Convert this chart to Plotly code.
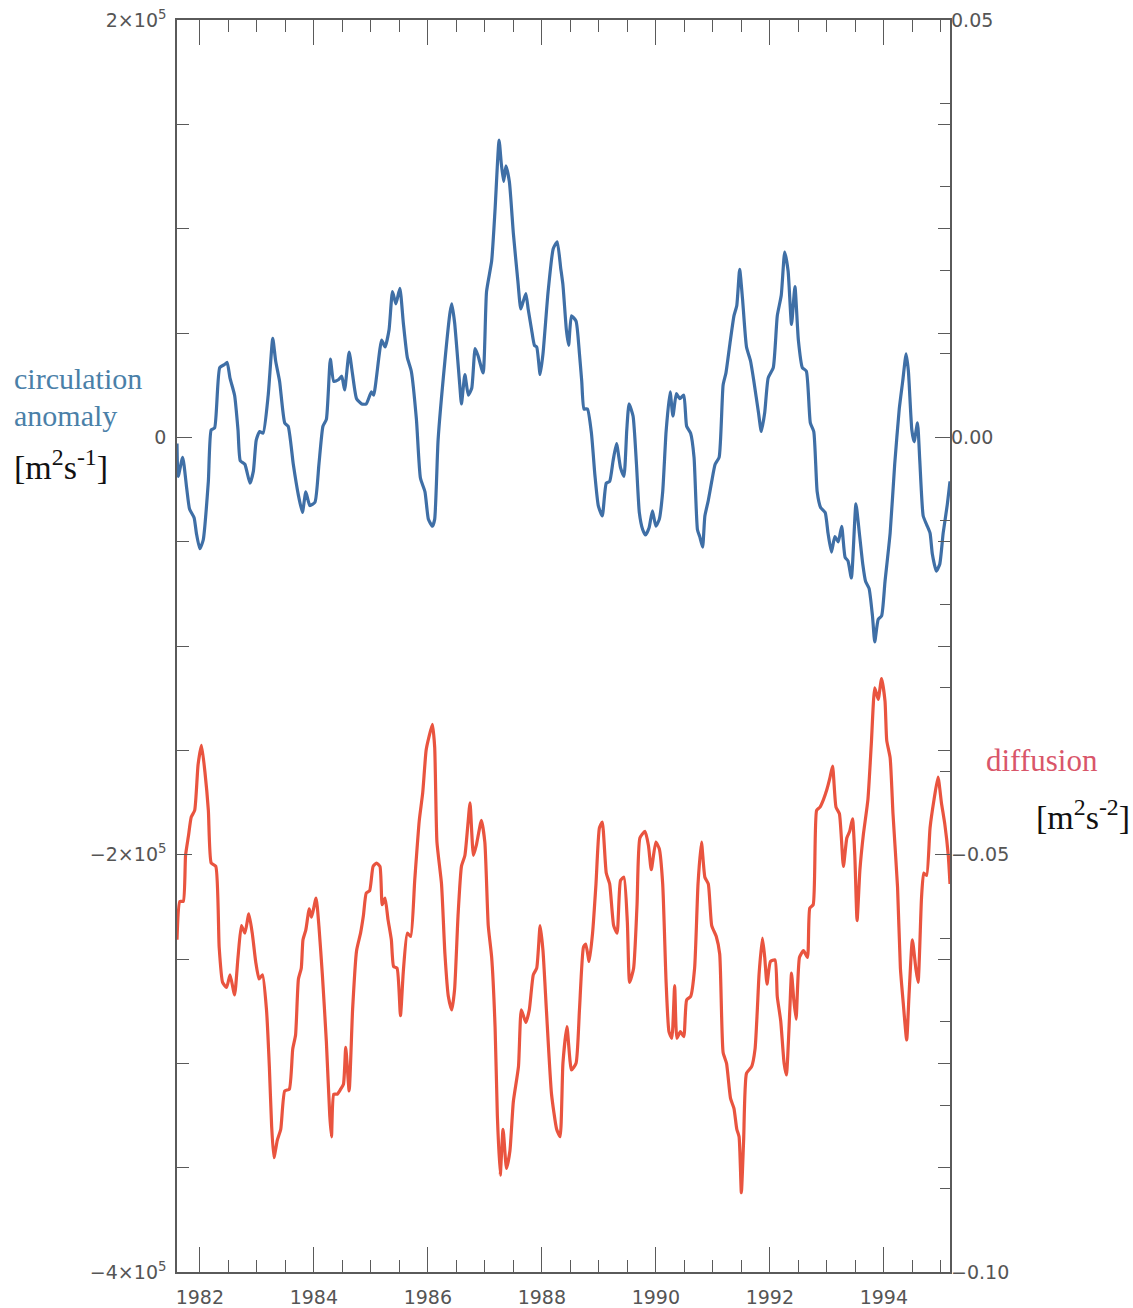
import plotly.graph_objects as go

# Circulation anomaly (units of 1e5 m^2 s^-1), decimal years
circ_years = [
    1981.60, 1981.62, 1981.70, 1981.77, 1981.82, 1981.90, 1981.94, 1982.00, 1982.06, 1982.15,
    1982.20, 1982.26, 1982.35, 1982.44, 1982.48, 1982.53, 1982.61, 1982.67, 1982.71, 1982.79,
    1982.88, 1982.94, 1982.99, 1983.05, 1983.11, 1983.20, 1983.28, 1983.33, 1983.40, 1983.49,
    1983.55, 1983.64, 1983.73, 1983.80, 1983.86, 1983.93, 1984.02, 1984.09, 1984.16, 1984.22,
    1984.29, 1984.35, 1984.43, 1984.49, 1984.54, 1984.62, 1984.68, 1984.75, 1984.84, 1984.92,
    1985.01, 1985.05, 1985.19, 1985.25, 1985.32, 1985.38, 1985.44, 1985.51, 1985.57, 1985.64,
    1985.71, 1985.80, 1985.87, 1985.95, 1986.01, 1986.08, 1986.12, 1986.18, 1986.30, 1986.39,
    1986.42, 1986.47, 1986.56, 1986.59, 1986.65, 1986.71, 1986.77, 1986.83, 1986.88, 1986.97,
    1987.03, 1987.12, 1987.18, 1987.25, 1987.29, 1987.33, 1987.37, 1987.43, 1987.50, 1987.58,
    1987.63, 1987.67, 1987.72, 1987.76, 1987.82, 1987.87, 1987.91, 1987.97, 1988.02, 1988.11,
    1988.20, 1988.27, 1988.33, 1988.37, 1988.43, 1988.47, 1988.52, 1988.60, 1988.66, 1988.70,
    1988.74, 1988.80, 1988.87, 1988.93, 1988.99, 1989.06, 1989.13, 1989.19, 1989.25, 1989.31,
    1989.38, 1989.44, 1989.49, 1989.53, 1989.60, 1989.66, 1989.71, 1989.77, 1989.82, 1989.88,
    1989.94, 1990.00, 1990.06, 1990.12, 1990.18, 1990.25, 1990.30, 1990.36, 1990.42, 1990.49,
    1990.54, 1990.61, 1990.67, 1990.73, 1990.77, 1990.82, 1990.86, 1990.92, 1990.98, 1991.04,
    1991.11, 1991.18, 1991.23, 1991.30, 1991.37, 1991.42, 1991.47, 1991.52, 1991.59, 1991.66,
    1991.72, 1991.80, 1991.85, 1991.91, 1991.97, 1992.06, 1992.13, 1992.20, 1992.26, 1992.32,
    1992.38, 1992.44, 1992.50, 1992.57, 1992.64, 1992.71, 1992.77, 1992.83, 1992.89, 1992.97,
    1993.02, 1993.08, 1993.14, 1993.20, 1993.26, 1993.32, 1993.37, 1993.43, 1993.51, 1993.57,
    1993.63, 1993.68, 1993.74, 1993.80, 1993.84, 1993.90, 1993.96, 1994.02, 1994.11, 1994.19,
    1994.27, 1994.33, 1994.39, 1994.43, 1994.49, 1994.53, 1994.59, 1994.63, 1994.69, 1994.75,
    1994.81, 1994.85, 1994.92, 1994.98, 1995.04, 1995.11, 1995.16,
]
circ_values = [
    -0.03, -0.187, -0.096, -0.244, -0.343, -0.385, -0.459, -0.534, -0.492, -0.211,
    0.036, 0.045, 0.334, 0.350, 0.359, 0.284, 0.202, 0.036, -0.112, -0.129,
    -0.220, -0.162, -0.013, 0.028, 0.020, 0.202, 0.474, 0.367, 0.268, 0.069,
    0.053, -0.129, -0.278, -0.360, -0.261, -0.327, -0.311, -0.129, 0.053, 0.086,
    0.375, 0.268, 0.276, 0.293, 0.227, 0.408, 0.301, 0.185, 0.160, 0.160,
    0.218, 0.202, 0.466, 0.433, 0.516, 0.698, 0.640, 0.714, 0.549, 0.383,
    0.317, 0.086, -0.195, -0.261, -0.393, -0.426, -0.393, -0.013, 0.367, 0.599,
    0.640, 0.549, 0.251, 0.160, 0.301, 0.202, 0.235, 0.425, 0.392, 0.309,
    0.698, 0.846, 1.094, 1.425, 1.309, 1.226, 1.301, 1.226, 0.979, 0.747,
    0.615, 0.648, 0.689, 0.615, 0.516, 0.441, 0.433, 0.301, 0.400, 0.698,
    0.904, 0.937, 0.813, 0.731, 0.516, 0.441, 0.582, 0.557, 0.400, 0.268,
    0.136, 0.136, 0.020, -0.178, -0.327, -0.377, -0.220, -0.211, -0.112, -0.030,
    -0.145, -0.187, 0.036, 0.160, 0.102, -0.129, -0.360, -0.443, -0.468, -0.435,
    -0.352, -0.426, -0.393, -0.261, 0.028, 0.218, 0.102, 0.210, 0.185, 0.202,
    0.053, 0.020, -0.096, -0.443, -0.476, -0.526, -0.377, -0.303, -0.211, -0.129,
    -0.096, 0.251, 0.309, 0.450, 0.582, 0.632, 0.805, 0.665, 0.433, 0.367,
    0.268, 0.119, 0.028, 0.119, 0.284, 0.334, 0.582, 0.681, 0.888, 0.797,
    0.541, 0.722, 0.466, 0.334, 0.317, 0.069, 0.028, -0.261, -0.336, -0.360,
    -0.459, -0.550, -0.476, -0.501, -0.426, -0.575, -0.592, -0.674, -0.319, -0.459,
    -0.608, -0.691, -0.724, -0.856, -0.980, -0.873, -0.856, -0.691, -0.459, -0.129,
    0.136, 0.268, 0.400, 0.317, 0.036, -0.021, 0.069, -0.112, -0.377, -0.418,
    -0.459, -0.559, -0.641, -0.608, -0.459, -0.327, -0.211,
]

# Diffusion term (m^2 s^-2), decimal years
diff_years = [
    1981.60, 1981.65, 1981.71, 1981.75, 1981.80, 1981.85, 1981.91, 1981.97, 1982.03, 1982.09,
    1982.15, 1982.20, 1982.28, 1982.34, 1982.40, 1982.47, 1982.53, 1982.61, 1982.67, 1982.73,
    1982.79, 1982.86, 1982.92, 1982.98, 1983.04, 1983.10, 1983.17, 1983.22, 1983.26, 1983.30,
    1983.36, 1983.42, 1983.49, 1983.57, 1983.63, 1983.68, 1983.73, 1983.78, 1983.81, 1983.86,
    1983.92, 1983.96, 1984.04, 1984.09, 1984.15, 1984.22, 1984.28, 1984.31, 1984.35, 1984.41,
    1984.47, 1984.52, 1984.56, 1984.62, 1984.68, 1984.75, 1984.82, 1984.87, 1984.92, 1984.98,
    1985.04, 1985.10, 1985.16, 1985.20, 1985.25, 1985.30, 1985.36, 1985.40, 1985.46, 1985.52,
    1985.57, 1985.64, 1985.70, 1985.77, 1985.85, 1985.91, 1985.97, 1986.02, 1986.08, 1986.12,
    1986.16, 1986.24, 1986.30, 1986.36, 1986.42, 1986.47, 1986.53, 1986.59, 1986.65, 1986.70,
    1986.74, 1986.80, 1986.85, 1986.94, 1987.00, 1987.06, 1987.12, 1987.18, 1987.22, 1987.27,
    1987.32, 1987.38, 1987.44, 1987.50, 1987.59, 1987.64, 1987.72, 1987.78, 1987.85, 1987.91,
    1987.97, 1988.02, 1988.08, 1988.17, 1988.26, 1988.32, 1988.37, 1988.44, 1988.52, 1988.60,
    1988.66, 1988.73, 1988.77, 1988.83, 1988.89, 1988.95, 1989.01, 1989.06, 1989.13, 1989.19,
    1989.26, 1989.32, 1989.38, 1989.44, 1989.50, 1989.54, 1989.61, 1989.67, 1989.72, 1989.81,
    1989.87, 1989.92, 1990.00, 1990.06, 1990.12, 1990.18, 1990.23, 1990.28, 1990.33, 1990.37,
    1990.43, 1990.49, 1990.54, 1990.61, 1990.68, 1990.74, 1990.80, 1990.86, 1990.92, 1990.98,
    1991.06, 1991.12, 1991.18, 1991.24, 1991.31, 1991.37, 1991.42, 1991.46, 1991.50, 1991.54,
    1991.59, 1991.68, 1991.74, 1991.78, 1991.81, 1991.87, 1991.91, 1991.95, 1992.01, 1992.09,
    1992.13, 1992.19, 1992.25, 1992.29, 1992.35, 1992.38, 1992.42, 1992.46, 1992.52, 1992.59,
    1992.66, 1992.70, 1992.76, 1992.82, 1992.88, 1992.94, 1993.00, 1993.05, 1993.10, 1993.16,
    1993.22, 1993.29, 1993.35, 1993.40, 1993.45, 1993.49, 1993.53, 1993.58, 1993.64, 1993.72,
    1993.78, 1993.84, 1993.90, 1993.96, 1994.02, 1994.05, 1994.11, 1994.16, 1994.24, 1994.29,
    1994.34, 1994.40, 1994.44, 1994.50, 1994.56, 1994.60, 1994.66, 1994.70, 1994.75, 1994.81,
    1994.88, 1994.95, 1995.01, 1995.07, 1995.13, 1995.16,
]
diff_values = [
    -0.0602, -0.0556, -0.0556, -0.0501, -0.0478, -0.0455, -0.0447, -0.0392, -0.0369, -0.0401,
    -0.0447, -0.0510, -0.0514, -0.0611, -0.0653, -0.0659, -0.0644, -0.0668, -0.0623, -0.0585,
    -0.0594, -0.0571, -0.0594, -0.0628, -0.0649, -0.0644, -0.0686, -0.0754, -0.0825, -0.0863,
    -0.0842, -0.0829, -0.0783, -0.0781, -0.0733, -0.0716, -0.0649, -0.0636, -0.0602, -0.0590,
    -0.0565, -0.0575, -0.0552, -0.0586, -0.0644, -0.0724, -0.0813, -0.0838, -0.0787, -0.0787,
    -0.0781, -0.0775, -0.0731, -0.0783, -0.0686, -0.0615, -0.0594, -0.0573, -0.0546, -0.0543,
    -0.0514, -0.0510, -0.0514, -0.0560, -0.0552, -0.0577, -0.0602, -0.0634, -0.0636, -0.0693,
    -0.0640, -0.0594, -0.0598, -0.0531, -0.0459, -0.0426, -0.0375, -0.0359, -0.0344, -0.0371,
    -0.0485, -0.0535, -0.0619, -0.0670, -0.0686, -0.0661, -0.0573, -0.0514, -0.0501, -0.0466,
    -0.0438, -0.0501, -0.0489, -0.0459, -0.0485, -0.0585, -0.0623, -0.0707, -0.0813, -0.0884,
    -0.0829, -0.0876, -0.0855, -0.0796, -0.0754, -0.0686, -0.0701, -0.0686, -0.0644, -0.0636,
    -0.0585, -0.0615, -0.0686, -0.0787, -0.0829, -0.0838, -0.0750, -0.0706, -0.0758, -0.0750,
    -0.0686, -0.0611, -0.0607, -0.0628, -0.0594, -0.0535, -0.0468, -0.0461, -0.0522, -0.0535,
    -0.0585, -0.0594, -0.0531, -0.0527, -0.0581, -0.0653, -0.0636, -0.0560, -0.0480, -0.0472,
    -0.0489, -0.0518, -0.0485, -0.0493, -0.0535, -0.0653, -0.0712, -0.0720, -0.0657, -0.0720,
    -0.0712, -0.0718, -0.0674, -0.0670, -0.0636, -0.0535, -0.0485, -0.0527, -0.0535, -0.0585,
    -0.0598, -0.0619, -0.0737, -0.0750, -0.0792, -0.0804, -0.0829, -0.0838, -0.0905, -0.0842,
    -0.0762, -0.0754, -0.0733, -0.0686, -0.0644, -0.0600, -0.0623, -0.0655, -0.0628, -0.0626,
    -0.0670, -0.0699, -0.0750, -0.0764, -0.0686, -0.0642, -0.0674, -0.0697, -0.0623, -0.0615,
    -0.0623, -0.0564, -0.0560, -0.0447, -0.0443, -0.0434, -0.0422, -0.0409, -0.0394, -0.0443,
    -0.0451, -0.0514, -0.0480, -0.0472, -0.0457, -0.0501, -0.0579, -0.0518, -0.0476, -0.0434,
    -0.0367, -0.0300, -0.0314, -0.0289, -0.0316, -0.0363, -0.0384, -0.0451, -0.0539, -0.0636,
    -0.0678, -0.0722, -0.0670, -0.0602, -0.0636, -0.0653, -0.0552, -0.0522, -0.0525, -0.0468,
    -0.0434, -0.0407, -0.0438, -0.0464, -0.0501, -0.0535,
]

# Tick labels
left_tickvals = [2e5, 0, -2e5, -4e5]
left_ticktext = ["2\u00d710<sup>5</sup>", "0", "\u22122\u00d710<sup>5</sup>", "\u22124\u00d710<sup>5</sup>"]
right_tickvals = [0.05, 0.0, -0.05, -0.10]
right_ticktext = ["0.05", "0.00", "\u22120.05", "\u22120.10"]
year_ticks = [1982, 1984, 1986, 1988, 1990, 1992, 1994]

BLUE = "#3f6fa6"
RED = "#e9543f"
AXIS = "#5a5a5a"
TICKFONT = dict(family="DejaVu Sans", size=19, color="#555555")

fig = go.Figure()
fig.add_trace(go.Scatter(
    x=circ_years, y=[v * 1e5 for v in circ_values],
    mode="lines", line=dict(color=BLUE, width=3.2, shape="spline", smoothing=0.5),
    yaxis="y", showlegend=False,
))
fig.add_trace(go.Scatter(
    x=diff_years, y=diff_values,
    mode="lines", line=dict(color=RED, width=3.2, shape="spline", smoothing=0.5),
    yaxis="y2", showlegend=False,
))

# plot area in pixels: left 177, right 950, top 20, bottom 1272
L, R, T, B = 177, 950, 20, 1272
W, H = 1133, 1308


def px(x):
    return (x - L) / (R - L)


def py(y):
    return (B - y) / (B - T)


fig.update_layout(
    width=W, height=H,
    margin=dict(l=L, r=W - R, t=T, b=H - B, pad=0, autoexpand=False),
    paper_bgcolor="white", plot_bgcolor="white",
    xaxis=dict(
        range=[1981.6, 1995.16], tickvals=year_ticks, automargin=False,
        ticks="inside", ticklen=25, tickwidth=1.2, tickcolor=AXIS,
        minor=dict(dtick=0.5, tick0=1982, ticks="inside", ticklen=12, tickwidth=1.2, tickcolor=AXIS),
        showline=True, linecolor=AXIS, linewidth=1.5, mirror="ticks",
        showgrid=False, zeroline=False, tickfont=TICKFONT, ticklabelstandoff=7,
    ),
    yaxis=dict(
        range=[-4e5, 2e5], tickvals=left_tickvals, ticktext=left_ticktext, automargin=False,
        ticks="inside", ticklen=15, tickwidth=1.2, tickcolor=AXIS,
        minor=dict(dtick=0.5e5, tick0=0, ticks="inside", ticklen=12, tickwidth=1.2, tickcolor=AXIS),
        showline=True, linecolor=AXIS, linewidth=1.5, mirror="ticks",
        showgrid=False, zeroline=False, tickfont=TICKFONT, ticklabelstandoff=5,
    ),
    yaxis2=dict(
        range=[-0.10, 0.05], tickvals=right_tickvals, ticktext=right_ticktext,
        overlaying="y", side="right", automargin=False,
        ticks="inside", ticklen=15, tickwidth=1.2, tickcolor=AXIS,
        minor=dict(dtick=0.01, tick0=0, ticks="inside", ticklen=10, tickwidth=1.2, tickcolor=AXIS),
        showline=False, showgrid=False, zeroline=False, tickfont=TICKFONT,
    ),
)

SERIF = "Liberation Serif"
notes = [
    ("circulation", 12, 378, "#4a80a8", 30),
    ("anomaly", 12, 415, "#4a80a8", 30),
    ("[m<sup>2</sup>s<sup>-1</sup>]", 12, 465, "#111111", 34),
    ("diffusion", 984, 760, "#d9566a", 31),
    ("[m<sup>2</sup>s<sup>-2</sup>]", 1034, 815, "#111111", 34),
]
for text, x, y, color, size in notes:
    fig.add_annotation(
        text=text, xref="paper", yref="paper", x=px(x), y=py(y),
        xanchor="left", yanchor="middle", showarrow=False,
        font=dict(family=SERIF, size=size, color=color),
    )

fig.write_html("out.html")
